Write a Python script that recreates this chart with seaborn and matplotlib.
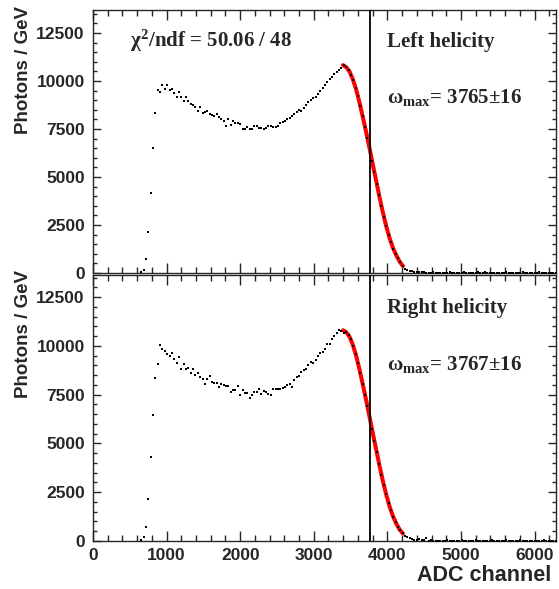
import numpy as np
import pandas as pd
import seaborn as sns
import matplotlib
matplotlib.use("Agg")
import matplotlib.pyplot as plt
from matplotlib.ticker import MultipleLocator

# histogram: 32 ADC wide bins, first drawn bin centred at 656
bin_width = 32
first_center = 656

top_counts = [
    30, 150, 745, 2150, 4150, 6530, 8350, 9530, 9410, 9810,
    9570, 9810, 9530, 9600, 9390, 9150, 9430, 9150, 8940, 9150,
    8970, 8800, 8770, 8660, 8420, 8630, 8320, 8390, 8420, 8280,
    8210, 8180, 8280, 8110, 8000, 7900, 7660, 8000, 7690, 7930,
    7800, 7800, 7780, 7520, 7520, 7600, 7520, 7520, 7660, 7660,
    7540, 7570, 7500, 7570, 7640, 7670, 7600, 7600, 7640, 7810,
    7880, 7900, 8020, 8050, 8160, 8300, 8400, 8500, 8450, 8610,
    8750, 8890, 8990, 9130, 9170, 9310, 9480, 9650, 9790, 9930,
    10100, 10200, 10350, 10450, 10560, 10660, 10830,
    10720, 10560, 10340, 10040, 9660, 9200, 8710, 8170, 7600, 7020,
    6460, 5850, 5240, 4640, 4050, 3480, 2930, 2440, 2000, 1620,
    1270, 990, 760, 560, 380,
    230, 160, 120, 80, 60, 50, 40, 30, 40, 20,
    20, 10, 30, 10, 0, 20, 10, 0, 10, 30, 0, 10, 20, 0, 10, 50,
    10, 0, 20, 10, 0, 40, 10, 0, 30, 20, 10, 0, 10, 20, 0, 10,
    0, 30, 10, 0, 20, 10, 0, 10, 40, 0, 10, 20, 0, 10, 0, 30,
    10, 0, 20, 0, 10, 0, 20,
]

bottom_counts = [
    50, 220, 730, 2170, 4320, 6450, 8330, 9080, 10020, 9850,
    9740, 9570, 9500, 9610, 9330, 9130, 9440, 8790, 9060, 8820,
    8890, 8590, 8790, 8520, 8590, 8380, 8280, 8070, 8310, 8480,
    8140, 8110, 8110, 7900, 8040, 7970, 7930, 7930, 7660, 7730,
    7760, 7930, 7460, 7730, 7560, 7590, 7350, 7460, 7630,
    7660, 7800, 7520, 7700, 7630, 7520, 7460, 7770, 7800, 7800,
    7770, 7830, 7900, 7970, 8040, 7900, 8240, 8380, 8480, 8650,
    8760, 8790, 9000, 9170, 9130, 9300, 9470, 9610, 9710, 9850,
    10090, 10120, 10360, 10500, 10670, 10800, 10740, 10670,
    10700, 10550, 10330, 10000, 9590, 9120, 8600, 8060, 7500, 6920,
    6330, 5720, 5120, 4540, 3960, 3400, 2870, 2390, 1950, 1570,
    1240, 960, 740, 540, 390,
    260, 180, 140, 100, 70, 60, 110, 50, 60, 150,
    10, 30, 0, 10, 20, 0, 10, 0, 40, 10, 0, 20, 10, 0, 30, 10,
    0, 20, 0, 10, 40, 0, 10, 20, 0, 10, 0, 30, 10, 0, 20, 10,
    0, 40, 10, 0, 20, 0, 10, 30, 0, 10, 20, 0, 10, 0, 20, 10,
    0, 30, 0, 10, 20, 0, 10,
]

fit_adc = [3397, 3442, 3487, 3532, 3578, 3623, 3668, 3714, 3759, 3804,
           3850, 3895, 3940, 3985, 4030, 4075, 4121, 4166, 4211]
fit_top = [10830, 10720, 10480, 10080, 9530, 8860, 8100, 7300, 6480, 5620,
           4760, 3920, 3140, 2430, 1820, 1320, 920, 600, 360]
fit_bottom = [10800, 10700, 10460, 10040, 9460, 8760, 7990, 7180, 6340, 5490,
              4650, 3830, 3060, 2370, 1770, 1280, 890, 590, 380]

edge_top = 3765
edge_bottom = 3767
labels = ["Left helicity", "Right helicity"]
omega_text = [r"$\omega_{max}$= 3765$\pm$16", r"$\omega_{max}$= 3767$\pm$16"]
chi2_text = r"$\chi^{2}$/ndf = 50.06 / 48"

sns.set_style("ticks")
plt.rcParams["font.family"] = ["Liberation Sans", "DejaVu Sans"]
plt.rcParams["mathtext.fontset"] = "custom"
plt.rcParams["mathtext.rm"] = "Liberation Serif:bold"
plt.rcParams["mathtext.it"] = "Liberation Serif:bold"
plt.rcParams["mathtext.bf"] = "Liberation Serif:bold"


def make_df(counts):
    adc = first_center + bin_width * np.arange(len(counts))
    return pd.DataFrame({"adc": adc, "photons": counts})


def style_axis(ax, ymax, show_x):
    ax.set_xlim(0, 6290)
    ax.set_ylim(0, ymax)
    ax.xaxis.set_major_locator(MultipleLocator(1000))
    ax.xaxis.set_minor_locator(MultipleLocator(200))
    ax.yaxis.set_major_locator(MultipleLocator(2500))
    ax.yaxis.set_minor_locator(MultipleLocator(500))
    ax.tick_params(axis="x", which="major", direction="in", length=7, width=1,
                   top=True, bottom=True, labelbottom=show_x, pad=5)
    ax.tick_params(axis="x", which="minor", direction="in", length=4, width=1,
                   top=True, bottom=True)
    ax.tick_params(axis="y", which="major", direction="in", length=6, width=1,
                   left=True, right=True, pad=6)
    ax.tick_params(axis="y", which="minor", direction="in", length=3, width=1,
                   left=True, right=True)
    for lab in ax.get_xticklabels() + ax.get_yticklabels():
        lab.set_fontsize(12.5)
        lab.set_fontweight("bold")
    for sp in ax.spines.values():
        sp.set_linewidth(1.0)
        sp.set_visible(True)
    ax.set_xlabel("")
    ax.set_ylabel("")


fig = plt.figure(figsize=(5.59, 5.89), dpi=100)
ax_top = fig.add_axes([0.1664, 0.5365, 0.828, 0.4465])
ax_bot = fig.add_axes([0.1664, 0.0815, 0.828, 0.4516])

panels = [
    (ax_top, top_counts, fit_top, edge_top, 13700, 0.859, 0.646, False),
    (ax_bot, bottom_counts, fit_bottom, edge_bottom, 13630, 0.857, 0.643, True),
]

for i, (ax, counts, fit_vals, edge, ymax, y_lab, y_om, show_x) in enumerate(panels):
    df = make_df(counts)
    fit_df = pd.DataFrame({"adc": fit_adc, "photons": fit_vals})
    sns.lineplot(data=fit_df, x="adc", y="photons", color="#ff0000",
                 linewidth=2.9, ax=ax, zorder=2)
    sns.scatterplot(data=df, x="adc", y="photons", color="black", marker="s",
                    s=2.5, linewidth=0, ax=ax, zorder=3)
    ax.axvline(edge, color="black", linewidth=1.3, zorder=4)
    style_axis(ax, ymax, show_x)

    ax.text(0.635, y_lab, labels[i], transform=ax.transAxes, fontsize=15,
            family="Liberation Serif", fontweight="bold", va="baseline")
    ax.text(0.635, y_om, omega_text[i], transform=ax.transAxes, fontsize=15,
            family="Liberation Serif", fontweight="bold", va="baseline")
    ax.text(-0.151, 1.017, "Photons / GeV", transform=ax.transAxes,
            rotation=90, ha="center", va="top", fontsize=13.5, fontweight="bold")

ax_top.text(0.08, 0.859, chi2_text, transform=ax_top.transAxes, fontsize=15,
            family="Liberation Serif", fontweight="bold", va="baseline")
ax_bot.text(0.991, -0.152, "ADC channel", transform=ax_bot.transAxes,
            ha="right", va="baseline", fontsize=15.5, fontweight="bold")

fig.savefig("out.png", dpi=100)
